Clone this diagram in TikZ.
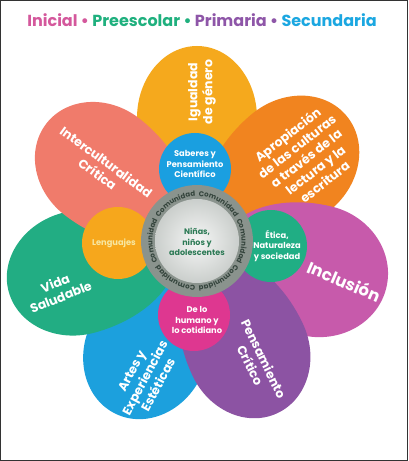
\documentclass[tikz,border=0pt]{standalone}
\usepackage{fontspec}
\setmainfont{Poppins}
\usetikzlibrary{decorations.text}
\definecolor{cYel}{HTML}{F5A91D}
\definecolor{cOra}{HTML}{F1841F}
\definecolor{cMag}{HTML}{C75AAB}
\definecolor{cPur}{HTML}{8C53A3}
\definecolor{cBlu}{HTML}{1CA0DD}
\definecolor{cGre}{HTML}{22AD83}
\definecolor{cSal}{HTML}{F07B6B}
\definecolor{cSab}{HTML}{1A9FE0}
\definecolor{cEti}{HTML}{20AE84}
\definecolor{cHum}{HTML}{DE3790}
\definecolor{cLen}{HTML}{F6A71C}
\definecolor{cLenT}{HTML}{F7E7A2}
\definecolor{cRing}{HTML}{8A938D}
\definecolor{cRingT}{HTML}{34443C}
\definecolor{cCenT}{HTML}{2C7A55}
\definecolor{tIni}{HTML}{D4589C}
\definecolor{tPre}{HTML}{1FB07E}
\definecolor{tPri}{HTML}{8E56A8}
\definecolor{tSec}{HTML}{1BA7E1}
\newcommand\mypetal[5]{% color, angle, D, outer radius, half width
  \fill[#1, shift={(197,220)}, rotate=#2] ({#3+#4},0)
    arc[start angle=0,end angle=90,x radius=#4,y radius=#5]
    arc[start angle=90,end angle=270,x radius=100,y radius=#5]
    arc[start angle=270,end angle=360,x radius=#4,y radius=#5] -- cycle;}
\newcommand\ringfont{\bfseries\fontsize{7.1}{8}\selectfont\color{cRingT}}
\begin{document}
\begin{tikzpicture}[x=1pt,y=1pt,
  plabel/.style={text=white, font=\bfseries\fontsize{12.5}{15}\selectfont, align=center, inner sep=0pt},
  clabel/.style={text=white, font=\bfseries\fontsize{8.3}{10.5}\selectfont, align=center, inner sep=0pt},
  smallc/.style={circle, minimum size=72pt, inner sep=0pt}]
\useasboundingbox (0,0) rectangle (408,461);
\fill[white] (0,0) rectangle (408,461);
\draw[line width=1.2pt, black!80] (0.6,0.6) rectangle (407.4,460.4);

\node (title) at (202,441) {\bfseries\fontsize{16}{18}\selectfont
  \textcolor{tIni}{Inicial •} \textcolor{tPre}{Preescolar •} \textcolor{tPri}{Primaria •} \textcolor{tSec}{Secundaria}};

% petals
\mypetal{cYel}{90}{123}{72}{60}
\mypetal{cOra}{40}{123}{72}{62}
\mypetal{cMag}{-14}{123}{72}{66}
\mypetal{cBlu}{-115}{121}{70}{61}
\mypetal{cPur}{-65}{120}{70}{61}
\mypetal{cGre}{195}{123}{72}{62}
\mypetal{cSal}{142}{121}{70}{61}

% petal labels
\node[plabel, rotate=90] (tIgu) at (202,369) {Igualdad\\de género};
\node[plabel, rotate=38] (tApr) at (306,303) {Apropiación\\de las culturas\\a través de la\\lectura y la\\escritura};
\node[plabel, rotate=-23, font=\bfseries\fontsize{16.5}{18}\selectfont] (tInc) at (344,180) {Inclusión};
\node[plabel, rotate=-64] (tPen) at (257,99) {Pensamiento\\Crítico};
\node[plabel, rotate=62] (tArt) at (145,83) {Artes y\\Experiencias\\Estéticas};
\node[plabel, rotate=22] (tVid) at (58,171) {Vida\\Saludable};
\node[plabel, rotate=-36] (tInt) at (102,293) {Interculturalidad\\Crítica};

% small circles
\node[smallc, fill=cSab] (cSaberes) at (195,292) {};
\node[smallc, fill=cEti] (cEtica) at (271,215) {};
\node[smallc, fill=cHum] (cHumano) at (194,146) {};
\node[smallc, fill=cLen] (cLeng) at (118,218) {};
\node[clabel] (lSaberes) at (195,297) {Saberes y\\Pensamiento\\Científico};
\node[clabel] (lEtica) at (277,215) {Ética,\\Naturaleza\\y sociedad};
\node[clabel] (lHumano) at (197,141) {De lo\\humano y\\lo cotidiano};
\node[clabel, text=cLenT] (lLeng) at (114,218) {Lenguajes};

% center
\node[circle, fill=cRing, minimum size=112pt, inner sep=0pt] (ring) at (197,220) {};
\node[circle, shading=radial, inner color=white!92!cRing, outer color=white!55!cRing, minimum size=84pt, inner sep=0pt] (core) at (197,220) {};
\foreach \k in {0,...,5} {
  \path[decorate, decoration={text along path, text align=center, text={|\ringfont|Comunidad}}]
    (ring.center) ++({150-60*\k}:44.5) arc[start angle={150-60*\k}, end angle={90-60*\k}, radius=44.5];
}
\node[text=cCenT, font=\bfseries\fontsize{8}{10.5}\selectfont, align=center] (ctext) at (197,219) {Niñas,\\niños y\\adolescentes};
\end{tikzpicture}
\end{document}
